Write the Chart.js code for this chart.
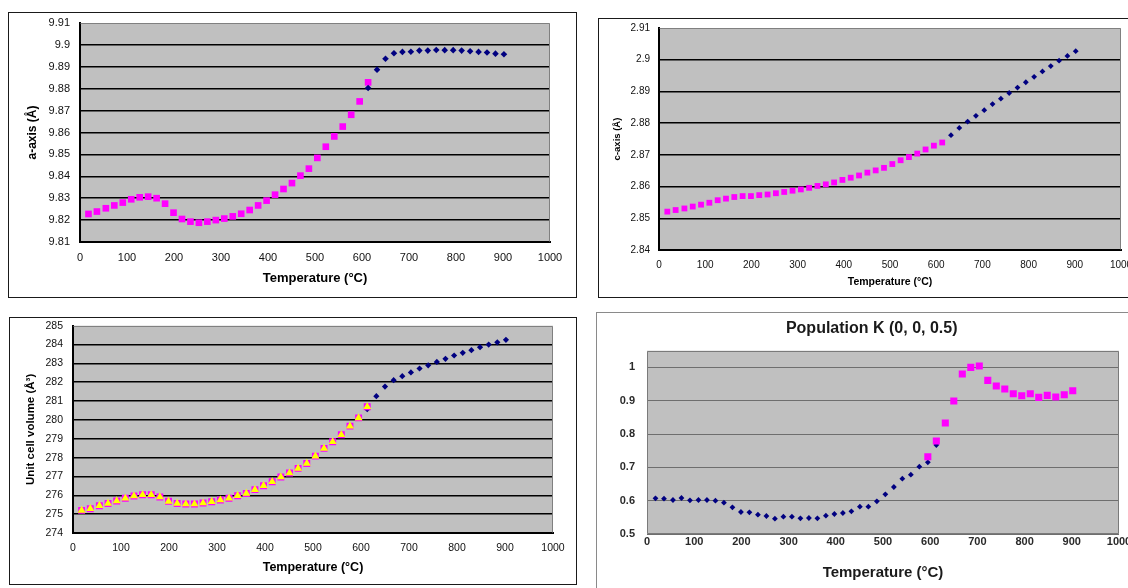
<!DOCTYPE html>
<html>
<head>
<meta charset="utf-8">
<title>Lattice parameters and K population vs temperature</title>
<script src="https://cdn.jsdelivr.net/npm/chart.js@4.4.1/dist/chart.umd.min.js"></script>
<style>
  html, body { margin: 0; padding: 0; background: #fff; overflow: hidden; width: 1128px; height: 588px; }
  .panel { position: absolute; box-sizing: border-box; border: 1px solid #1a1a1a; background: #fff; }
  .panel canvas { display: block; }
  #p1 { left: 8px;   top: 12px;  width: 569px; height: 286px; }
  #p2 { left: 598px; top: 18px;  width: 540px; height: 280px; }
  #p3 { left: 9px;   top: 317px; width: 568px; height: 268px; }
  #p4 { left: 596px; top: 312px; width: 540px; height: 292px; border-color: #8a8a8a; }
  #p4 canvas { filter: blur(0.5px); }
</style>
</head>
<body>
<div class="panel" id="p1"><canvas id="cA" width="567" height="284"></canvas></div>
<div class="panel" id="p2"><canvas id="cC" width="538" height="278"></canvas></div>
<div class="panel" id="p3"><canvas id="cV" width="566" height="266"></canvas></div>
<div class="panel" id="p4"><canvas id="cK" width="538" height="290"></canvas></div>
<script>
// ---- measured data -------------------------------------------------------
// temperatures (°C) of the low-temperature run (18 – 613 °C)
const tempLow = [18, 36, 55, 73, 91, 109, 127, 145, 163, 181, 199, 217, 235, 253, 271, 289, 307,
                 325, 343, 361, 379, 397, 415, 433, 451, 469, 487, 505, 523, 541, 559, 577, 595, 613];
// temperatures of the high-temperature run (613 – 902 °C)
const tempHigh = [613, 632, 650, 668, 686, 704, 722, 740, 758, 776, 794, 812, 830, 848, 866, 884, 902];
const cAxisHighTemp = [632, 650, 668, 686, 704, 722, 740, 758, 776, 794, 812, 830, 848, 866, 884, 902];
const popKHighTemp = [595, 613, 632, 650, 668, 686, 704, 722, 740, 758, 776, 794, 812, 830, 848, 866, 884, 902];

// a-axis (Å)
const aAxisLow = [9.8228, 9.8239, 9.8254, 9.8267, 9.8280, 9.8295, 9.8304, 9.8307, 9.8300, 9.8275,
                  9.8234, 9.8205, 9.8193, 9.8188, 9.8193, 9.8200, 9.8207, 9.8217, 9.8229, 9.8246,
                  9.8267, 9.8289, 9.8316, 9.8342, 9.8369, 9.8403, 9.8435, 9.8484, 9.8535, 9.8582,
                  9.8627, 9.8681, 9.8742, 9.8829];
const aAxisHigh = [9.8803, 9.8887, 9.8937, 9.8962, 9.8968, 9.8969, 9.8974, 9.8974, 9.8977, 9.8976,
                   9.8976, 9.8974, 9.8971, 9.8968, 9.8965, 9.8960, 9.8957];

// c-axis (Å)
const cAxisLow = [2.8521, 2.8526, 2.8531, 2.8537, 2.8543, 2.8549, 2.8557, 2.8562, 2.8567, 2.8570,
                  2.8570, 2.8573, 2.8575, 2.8579, 2.8583, 2.8587, 2.8591, 2.8596, 2.8602, 2.8607,
                  2.8613, 2.8621, 2.8628, 2.8635, 2.8644, 2.8651, 2.8659, 2.8671, 2.8683, 2.8693,
                  2.8704, 2.8717, 2.8729, 2.8739];
const cAxisHigh = [2.8762, 2.8785, 2.8805, 2.8823, 2.8841, 2.8860, 2.8877, 2.8895, 2.8912, 2.8929,
                   2.8946, 2.8963, 2.8980, 2.8997, 2.9012, 2.9027];

// unit cell volume (Å³)
const volumeLow = [275.20, 275.29, 275.45, 275.57, 275.70, 275.84, 275.96, 276.03, 276.03, 275.91,
                   275.68, 275.57, 275.54, 275.54, 275.59, 275.66, 275.75, 275.84, 275.98, 276.10,
                   276.30, 276.51, 276.72, 276.97, 277.18, 277.43, 277.69, 278.08, 278.49, 278.84,
                   279.21, 279.67, 280.11, 280.70];
const volumeHigh = [280.57, 281.26, 281.77, 282.11, 282.32, 282.52, 282.73, 282.90, 283.08, 283.24,
                    283.42, 283.56, 283.70, 283.86, 284.00, 284.12, 284.25];

// K site population at (0, 0, 0.5)
const popKLow = [0.607, 0.606, 0.602, 0.608, 0.601, 0.602, 0.602, 0.600, 0.594, 0.580,
                 0.566, 0.565, 0.558, 0.554, 0.546, 0.552, 0.552, 0.547, 0.548, 0.547,
                 0.555, 0.560, 0.563, 0.568, 0.582, 0.582, 0.598, 0.619, 0.641, 0.666,
                 0.678, 0.702, 0.715, 0.767];
const popKHigh = [0.732, 0.779, 0.833, 0.899, 0.980, 1.000, 1.004, 0.961, 0.944, 0.935,
                  0.921, 0.915, 0.921, 0.910, 0.916, 0.911, 0.918, 0.930];

// axis ticks
const tempTicks = [0, 100, 200, 300, 400, 500, 600, 700, 800, 900, 1000];
const aAxisTicks = [9.81, 9.82, 9.83, 9.84, 9.85, 9.86, 9.87, 9.88, 9.89, 9.9, 9.91];
const cAxisTicks = [2.84, 2.85, 2.86, 2.87, 2.88, 2.89, 2.9, 2.91];
const volumeTicks = [274, 275, 276, 277, 278, 279, 280, 281, 282, 283, 284, 285];
const popKTicks = [0.5, 0.6, 0.7, 0.8, 0.9, 1];

// ---- drawing ---------------------------------------------------------------
const FONT = "'Liberation Sans', Arial, Helvetica, sans-serif";
const PINK = '#ff00ff', NAVY = '#000080', YELLOW = '#ffff00';

const pts = (xs, ys) => xs.map((x, i) => ({ x, y: ys[i] }));

// grey plot area with its frame (top/right edge, or all four edges)
const plotFrame = {
  id: 'plotFrame',
  beforeDraw(chart, args, o) {
    const { ctx, chartArea: a } = chart;
    ctx.save();
    ctx.fillStyle = o.fill;
    ctx.fillRect(a.left, a.top, a.width, a.height);
    ctx.restore();
  },
  beforeDatasetsDraw(chart, args, o) {
    const { ctx, chartArea: a } = chart;
    const l = Math.round(a.left) + 0.5, t = Math.round(a.top) + 0.5;
    const r = Math.round(a.right) - 0.5, b = Math.round(a.bottom) - 0.5;
    ctx.save();
    ctx.strokeStyle = o.edge;
    ctx.lineWidth = 1;
    ctx.beginPath();
    if (o.full) {
      ctx.rect(l, t, r - l, b - t);
    } else {
      ctx.moveTo(l, t); ctx.lineTo(r, t); ctx.lineTo(r, b);
    }
    ctx.stroke();
    ctx.restore();
  }
};

// chart heading placed at a fixed centre point
const panelHeading = {
  id: 'panelHeading',
  afterDraw(chart, args, o) {
    if (!o.text) return;
    const { ctx } = chart;
    ctx.save();
    ctx.font = o.font;
    ctx.fillStyle = o.color;
    ctx.textAlign = 'center';
    ctx.textBaseline = 'middle';
    ctx.fillText(o.text, o.x, o.y);
    ctx.restore();
  }
};

function marker(data, style, radius, fill, border, borderWidth) {
  return {
    data, showLine: false, pointStyle: style, pointRadius: radius,
    pointBackgroundColor: fill, pointBorderColor: border || fill,
    pointBorderWidth: borderWidth || 0
  };
}

function build(canvasId, s) {
  const yMin = s.yTicks[0];
  const yTop = s.yTop !== undefined ? s.yTop : s.yTicks[s.yTicks.length - 1];
  const fmt = v => String(+(+v).toFixed(4));
  return new Chart(document.getElementById(canvasId), {
    type: 'scatter',
    data: { datasets: s.datasets },
    options: {
      responsive: false,
      animation: false,
      events: [],
      layout: { padding: s.pad },
      plugins: {
        legend: { display: false },
        tooltip: { enabled: false },
        title: { display: false },
        plotFrame: s.frame,
        panelHeading: s.heading || {}
      },
      scales: {
        x: {
          type: 'linear', min: 0, max: 1000,
          afterBuildTicks: ax => { ax.ticks = tempTicks.map(v => ({ value: v })); },
          afterFit: ax => { ax.height = s.xH; ax.paddingLeft = 0; ax.paddingRight = 0; },
          grid: { display: false, drawTicks: false },
          border: { display: s.axisLine, color: '#000', width: 2 },
          ticks: {
            font: { family: FONT, size: s.xTickSize, weight: s.tickWeight },
            color: s.tickColor, padding: s.xTickPad, maxRotation: 0, autoSkip: false,
            callback: v => String(v)
          },
          title: {
            display: true, text: 'Temperature (°C)', color: s.titleColor,
            font: { family: FONT, size: s.xTitleSize, weight: 'bold' },
            padding: { top: 0, bottom: s.xTitlePad }
          }
        },
        y: {
          type: 'linear', min: yMin, max: yTop,
          afterBuildTicks: ax => { ax.ticks = s.yTicks.map(v => ({ value: v })); },
          afterFit: ax => { ax.width = s.yW; ax.paddingTop = 0; ax.paddingBottom = 0; },
          grid: {
            drawTicks: false,
            lineWidth: s.gridWidth,
            color: c => (c.tick && c.tick.value >= yTop - 1e-9) ? 'rgba(0,0,0,0)' : s.gridColor
          },
          border: { display: s.axisLine, color: '#000', width: 2 },
          ticks: {
            font: { family: FONT, size: s.yTickSize, weight: s.tickWeight },
            color: s.tickColor, padding: s.yTickPad, autoSkip: false,
            callback: fmt
          },
          title: s.yTitle ? {
            display: true, text: s.yTitle, color: s.titleColor,
            font: { family: FONT, size: s.yTitleSize, weight: 'bold' },
            padding: { top: s.yTitlePad, bottom: 0 }
          } : { display: false }
        }
      }
    },
    plugins: [plotFrame, panelHeading]
  });
}

// a-axis
build('cA', {
  pad: { top: 10, right: 26, left: 0, bottom: 0 },
  xH: 55, yW: 71,
  yTicks: aAxisTicks, yTitle: 'a-axis (Å)',
  xTickSize: 11, yTickSize: 11, xTickPad: 9, yTickPad: 10, tickWeight: 'normal', tickColor: '#111',
  xTitleSize: 13, xTitlePad: 10.5, yTitleSize: 12, yTitlePad: 16.8, titleColor: '#000',
  gridColor: '#000', gridWidth: 1.5, axisLine: true,
  frame: { fill: '#c0c0c0', edge: '#808080', full: false },
  datasets: [
    marker(pts(tempHigh, aAxisHigh), 'rectRot', 3.3, NAVY),
    marker(pts(tempLow, aAxisLow), 'rect', 4.7, PINK)
  ]
});

// c-axis
build('cC', {
  pad: { top: 9, right: 16, left: 0, bottom: 0 },
  xH: 47, yW: 60,
  yTicks: cAxisTicks, yTitle: 'c-axis (Å)',
  xTickSize: 10, yTickSize: 10, xTickPad: 9, yTickPad: 9, tickWeight: 'normal', tickColor: '#111',
  xTitleSize: 10.5, xTitlePad: 9, yTitleSize: 9.5, yTitlePad: 13, titleColor: '#000',
  gridColor: '#000', gridWidth: 1.5, axisLine: true,
  frame: { fill: '#c0c0c0', edge: '#808080', full: false },
  datasets: [
    marker(pts(cAxisHighTemp, cAxisHigh), 'rectRot', 2.9, NAVY),
    marker(pts(tempLow, cAxisLow), 'rect', 4.1, PINK)
  ]
});

// unit cell volume
build('cV', {
  pad: { top: 7.7, right: 23, left: 0, bottom: 0 },
  xH: 51, yW: 63,
  yTicks: volumeTicks, yTitle: 'Unit cell volume (Å³)',
  xTickSize: 10.5, yTickSize: 10.5, xTickPad: 8.4, yTickPad: 10, tickWeight: 'normal', tickColor: '#111',
  xTitleSize: 12.5, xTitlePad: 8.9, yTitleSize: 11.5, yTitlePad: 13.8, titleColor: '#000',
  gridColor: '#000', gridWidth: 1.5, axisLine: true,
  frame: { fill: '#c0c0c0', edge: '#808080', full: false },
  datasets: [
    marker(pts(tempLow, volumeLow), 'triangle', 4.6, YELLOW),
    marker(pts(tempLow, volumeLow), 'rect', 4.9, PINK),
    marker(pts(tempHigh, volumeHigh), 'rectRot', 3.1, NAVY)
  ]
});

// K population
build('cK', {
  pad: { top: 37.7, right: 16, left: 14, bottom: 0 },
  xH: 69, yW: 36,
  yTicks: popKTicks, yTop: 1.05, yTitle: null,
  xTickSize: 11, yTickSize: 11, xTickPad: 1, yTickPad: 12, tickWeight: 'bold', tickColor: '#2a2a2a',
  xTitleSize: 15, xTitlePad: 20.7, titleColor: '#1a1a1a',
  gridColor: '#6e6e6e', gridWidth: 1, axisLine: false,
  frame: { fill: '#c0c0c0', edge: '#7a7a7a', full: true },
  heading: {
    text: 'Population K (0, 0, 0.5)', x: 274.7, y: 15.5,
    font: "bold 16px " + FONT, color: '#1a1a1a'
  },
  datasets: [
    marker(pts(popKHighTemp, popKHigh), 'rect', 5, PINK),
    marker(pts(tempLow, popKLow), 'rectRot', 2.9, NAVY)
  ]
});
</script>
</body>
</html>
